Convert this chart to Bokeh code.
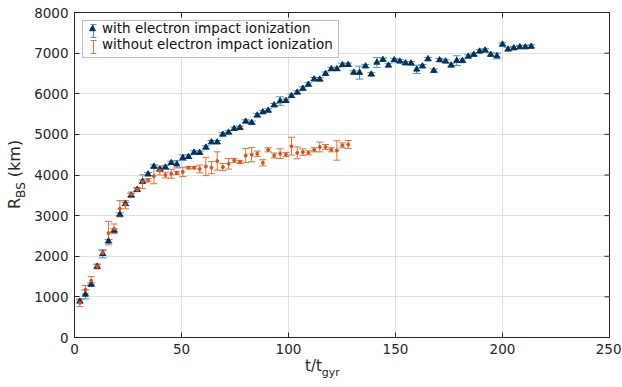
import numpy as np
from bokeh.plotting import figure
from bokeh.models import (ColumnDataSource, Whisker, TeeHead, Range1d, SingleIntervalTicker,
                          Legend, LegendItem, Div, BoxAnnotation)
from bokeh.layouts import row, column
from bokeh.embed import file_html
from bokeh.resources import INLINE

# ---------------- data ----------------
t_with = [2.5, 5.1, 7.8, 10.6, 13.2, 15.9, 18.5, 21.2, 23.8, 26.5,
          29.3, 31.8, 34.4, 37.1, 39.9, 42.5, 45.2, 47.8, 50.6, 53.3,
          55.9, 58.5, 61.4, 64.0, 66.7, 69.3, 72.0, 74.6, 77.3, 80.0,
          82.8, 85.4, 88.0, 90.5, 93.3, 96.1, 98.8, 101.4, 104.1, 106.7,
          109.3, 112.0, 114.6, 117.3, 120.0, 122.6, 125.2, 127.9, 130.5, 133.2,
          136.0, 138.7, 141.3, 144.1, 146.7, 149.4, 152.0, 154.7, 157.3, 159.9,
          162.6, 165.2, 167.9, 170.6, 173.4, 176.0, 178.6, 181.3, 184.0, 186.6,
          189.3, 191.9, 194.5, 197.4, 200.0, 202.6, 205.3, 208.1, 210.7, 213.4]
r_with = [890, 1060, 1305, 1750, 2060, 2370, 2635, 3030, 3290, 3500,
          3640, 3840, 4020, 4210, 4140, 4190, 4300, 4265, 4425, 4450,
          4555, 4550, 4680, 4810, 4810, 5000, 5050, 5140, 5165, 5320,
          5290, 5470, 5550, 5590, 5720, 5820, 5830, 5950, 6035, 6130,
          6230, 6360, 6355, 6495, 6610, 6610, 6710, 6715, 6525, 6520,
          6680, 6480, 6770, 6840, 6700, 6830, 6800, 6755, 6750, 6600,
          6680, 6855, 6570, 6830, 6800, 6700, 6815, 6815, 6920, 6965,
          7045, 7070, 6965, 6930, 7215, 7095, 7125, 7150, 7150, 7165]
e_with = [40, 110, 40, 40, 100, 40, 40, 40, 40, 40,
          40, 40, 40, 40, 40, 40, 40, 90, 70, 40,
          40, 40, 40, 40, 40, 40, 40, 40, 40, 40,
          40, 40, 40, 40, 40, 105, 40, 40, 40, 40,
          40, 40, 40, 40, 40, 40, 40, 40, 40, 160,
          40, 40, 120, 40, 40, 40, 40, 40, 40, 100,
          40, 40, 40, 40, 40, 40, 120, 40, 40, 40,
          40, 40, 40, 70, 40, 40, 40, 40, 40, 40]

t_without = [2.5, 5.1, 7.8, 10.6, 13.2, 15.9, 18.5, 21.2, 23.8, 26.5,
             29.3, 31.8, 34.4, 37.1, 39.9, 42.5, 45.2, 47.8, 50.6, 53.3,
             55.9, 58.5, 61.4, 64.0, 66.7, 69.3, 72.0, 74.6, 77.3, 80.0,
             82.8, 85.4, 88.0, 90.5, 93.3, 96.1, 98.8, 101.4, 104.1, 106.7,
             109.3, 112.0, 114.6, 117.3, 120.0, 122.6, 125.2, 127.9]
r_without = [855, 1180, 1400, 1750, 2080, 2570, 2675, 3170, 3270, 3520,
             3640, 3835, 3870, 3975, 4110, 4000, 4030, 4050, 4075, 4180,
             4180, 4150, 4210, 4180, 4345, 4195, 4275, 4360, 4320, 4480,
             4500, 4525, 4300, 4620, 4480, 4525, 4505, 4710, 4545, 4565,
             4545, 4620, 4690, 4690, 4620, 4605, 4730, 4750]
e_without = [95, 100, 100, 60, 60, 290, 120, 200, 100, 60,
             50, 170, 40, 190, 110, 70, 110, 40, 115, 30,
             30, 95, 225, 150, 225, 90, 130, 50, 40, 175,
             175, 65, 75, 50, 60, 120, 50, 220, 145, 80,
             50, 50, 120, 60, 50, 240, 60, 100]

x_ticks = [0, 50, 100, 150, 200, 250]
y_ticks = [0, 1000, 2000, 3000, 4000, 5000, 6000, 7000, 8000]
label_with = "with electron impact ionization"
label_without = "without electron impact ionization"
x_title = ("t/t", "gyr")
y_title = ("R", "BS", " (km)")

# ---------------- style ----------------
FONT = "DejaVu Sans"
TXT = "#262626"
BLUE_BAR = "#3f95d8"
BLUE_MK = "#0c2f52"
ORANGE = "#d95319"
ORANGE_BAR = "#e2703c"
GRID = "#e0e0e0"
X0, X1, Y0, Y1 = 0, 250, 0, 8000
FW, FH = 535, 325
YDIV_W = 30

p = figure(frame_width=FW, frame_height=FH,
           x_range=Range1d(X0, X1), y_range=Range1d(Y0, Y1),
           output_backend="svg", toolbar_location=None,
           min_border_left=74 - YDIV_W, min_border_right=12,
           min_border_top=12, min_border_bottom=22,
           background_fill_color="white", border_fill_color="white")
p.outline_line_color = TXT
p.outline_line_width = 1

xt = SingleIntervalTicker(interval=50, num_minor_ticks=0)
yt = SingleIntervalTicker(interval=1000, num_minor_ticks=0)
p.xaxis.ticker = xt
p.yaxis.ticker = yt
p.xgrid.ticker = xt
p.ygrid.ticker = yt
for g in (p.xgrid, p.ygrid):
    g.grid_line_color = GRID
    g.grid_line_width = 1

for ax in (p.xaxis[0], p.yaxis[0]):
    ax.axis_line_color = TXT
    ax.axis_line_width = 1
    ax.major_tick_line_color = TXT
    ax.major_tick_in = 5
    ax.major_tick_out = 0
    ax.minor_tick_line_color = None
    ax.major_label_text_font = FONT
    ax.major_label_text_font_size = "13.5px"
    ax.major_label_text_color = TXT
p.xaxis.major_label_standoff = 6
p.yaxis.major_label_standoff = 6


def px_x(px):   # horizontal pixel offset from the frame's left edge -> data
    return X0 + px * (X1 - X0) / FW


def px_y(px):   # vertical pixel offset from the frame's bottom edge -> data
    return Y0 + px * (Y1 - Y0) / FH


# inner ticks on the top and right sides of the box (5 px long)
p.segment(x0=x_ticks, x1=x_ticks, y0=[Y1] * len(x_ticks), y1=[Y1 - px_y(5)] * len(x_ticks),
          line_color=TXT, line_width=1)
p.segment(x0=[X1] * len(y_ticks), x1=[X1 - px_x(5)] * len(y_ticks), y0=y_ticks, y1=y_ticks,
          line_color=TXT, line_width=1)

# ---------------- data marks ----------------
src_b = ColumnDataSource(dict(
    t=t_with, r=r_with,
    lo=[r - e for r, e in zip(r_with, e_with)],
    hi=[r + e for r, e in zip(r_with, e_with)]))
src_o = ColumnDataSource(dict(
    t=t_without, r=r_without,
    lo=[r - e for r, e in zip(r_without, e_without)],
    hi=[r + e for r, e in zip(r_without, e_without)]))


def whisker(src, color, cap, **kw):
    return Whisker(source=src, base="t", lower="lo", upper="hi", dimension="height",
                   line_color=color, line_width=1,
                   lower_head=TeeHead(size=cap, line_color=color, line_width=1),
                   upper_head=TeeHead(size=cap, line_color=color, line_width=1), **kw)


p.add_layout(whisker(src_b, BLUE_BAR, 8))
p.add_layout(whisker(src_o, ORANGE_BAR, 7))

p.scatter("t", "r", source=src_b, marker="triangle", size=6,
          fill_color=BLUE_MK, line_color=BLUE_MK)
p.scatter("t", "r", source=src_o, marker="circle", size=3,
          fill_color=ORANGE, line_color=ORANGE)

# ---------------- legend ----------------
# box of the legend (white with dark border)
p.add_layout(BoxAnnotation(left=px_x(8), right=px_x(264), top=px_y(FH - 8), bottom=px_y(FH - 45),
                           fill_color="white", fill_alpha=1, line_color=TXT, line_width=1,
                           level="annotation"))
# error-bar glyphs of the legend
leg_x = [px_x(19)]
leg_b = ColumnDataSource(dict(t=leg_x, lo=[px_y(FH - 25)], hi=[px_y(FH - 12)]))
leg_o = ColumnDataSource(dict(t=leg_x, lo=[px_y(FH - 41)], hi=[px_y(FH - 28)]))
for src, col in ((leg_b, BLUE_BAR), (leg_o, ORANGE_BAR)):
    p.add_layout(whisker(src, col, 6, level="annotation"))

lb_mk = p.scatter(x=[np.nan], y=[np.nan], marker="triangle",
                  fill_color=BLUE_MK, line_color=BLUE_MK)
lo_mk = p.scatter(x=[np.nan], y=[np.nan], marker="circle",
                  fill_alpha=0, line_alpha=0)
legend = Legend(items=[LegendItem(label=label_with, renderers=[lb_mk]),
                       LegendItem(label=label_without, renderers=[lo_mk])],
                location="top_left", margin=8, padding=1, spacing=-3,
                glyph_width=20, glyph_height=15, label_height=15, label_standoff=0,
                label_text_font=FONT, label_text_font_size="13.5px",
                label_text_color="#111111",
                border_line_color=None, background_fill_alpha=0)
p.add_layout(legend)

# ---------------- axis titles (HTML text with subscripts) ----------------
FH_TOTAL = 386
font_y = f"font-family:'{FONT}';font-size:16px;line-height:16px;color:{TXT};white-space:nowrap;"
font_x = f"font-family:'{FONT}';font-size:15px;line-height:15px;color:{TXT};white-space:nowrap;"
sub_y = "font-size:12px;vertical-align:-5px;"
sub_x = "font-size:11px;vertical-align:-5px;"

ydiv = Div(width=YDIV_W, height=FH_TOTAL, margin=0, text=(
    f'<div style="position:relative;width:{YDIV_W}px;height:{FH_TOTAL}px;">'
    f'<div style="position:absolute;left:7px;top:209px;transform:rotate(-90deg);'
    f'transform-origin:0 0;{font_y}">'
    f'{y_title[0]}<span style="{sub_y}">{y_title[1]}</span>{y_title[2]}</div></div>'))

xdiv = Div(width=591, height=27, margin=0, text=(
    f'<div style="position:relative;width:591px;height:27px;">'
    f'<div style="position:absolute;left:{305 - YDIV_W}px;top:0px;{font_x}">'
    f'{x_title[0]}<span style="{sub_x}">{x_title[1]}</span></div></div>'))

layout = row(ydiv, column(p, xdiv, spacing=0), spacing=0)

open("out.html", "w").write(file_html(layout, INLINE))
